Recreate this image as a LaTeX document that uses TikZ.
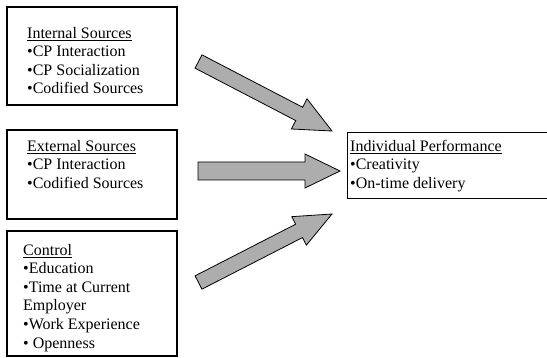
\documentclass[tikz,border=0pt]{standalone}
\usepackage{fontspec}
\setmainfont{Liberation Serif}
\usetikzlibrary{calc}

\tikzset{
  box/.style={draw=black, line width=1.1pt},
  outbox/.style={draw=black, line width=0.8pt},
  label/.style={anchor=north west, inner sep=0pt, align=left,
    font=\fontsize{16}{18.6}\selectfont},
  fat/.style={draw=black, line width=0.8pt, fill=black!32, line join=miter},
}

% broad arrow from coordinate #1 to coordinate #2:
% #3 half shaft width, #4 half head width, #5 head length (all in pt)
\newcommand{\broadarrow}[5]{%
  \coordinate (#1-#2-neck) at ($(#2)!#5pt!(#1)$);
  \path[fat] ($(#1)!#3pt!90:(#2)$) -- ($(#1-#2-neck)!#3pt!90:(#2)$)
    -- ($(#1-#2-neck)!#4pt!90:(#2)$) -- (#2)
    -- ($(#1-#2-neck)!#4pt!-90:(#2)$) -- ($(#1-#2-neck)!#3pt!-90:(#2)$)
    -- ($(#1)!#3pt!-90:(#2)$) -- cycle;
}

\begin{document}
\begin{tikzpicture}[x=1pt, y=-1pt]
  \useasboundingbox (0,0) rectangle (547,358);
  \clip (0,0) rectangle (547,358);

  % source boxes
  \draw[box] (7,7) rectangle (177,105);
  \draw[box] (7,130) rectangle (177,219);
  \draw[box] (7,231) rectangle (177,356);
  % outcome box
  \draw[outbox] (347,132) rectangle (552,198);

  \node[label] (internal) at (27,38-13.02)
    {\strut\underline{Internal Sources}\\ •CP Interaction\\ •CP Socialization\\ •Codified Sources};
  \node[label] (external) at (27,151-13.02)
    {\strut\underline{External Sources}\\ •CP Interaction\\ •Codified Sources};
  \node[label] (control) at (23,255-13.02)
    {\strut\underline{Control}\\ •Education\\ •Time at Current\\ Employer\\ •Work Experience\\ • Openness};
  \node[label] (performance) at (350,151-13.02)
    {\strut\underline{Individual Performance}\\ •Creativity\\ •On-time delivery};

  % arrow ends
  \coordinate (t1) at (198.5,61.5);
  \coordinate (h1) at (332,131);
  \coordinate (t2) at (198,171);
  \coordinate (h2) at (340,171);
  \coordinate (t3) at (198.5,282.5);
  \coordinate (h3) at (332,214);

  \broadarrow{t1}{h1}{7.5}{17}{37}
  \broadarrow{t2}{h2}{9}{17}{35}
  \broadarrow{t3}{h3}{7.5}{16}{37}
\end{tikzpicture}
\end{document}
